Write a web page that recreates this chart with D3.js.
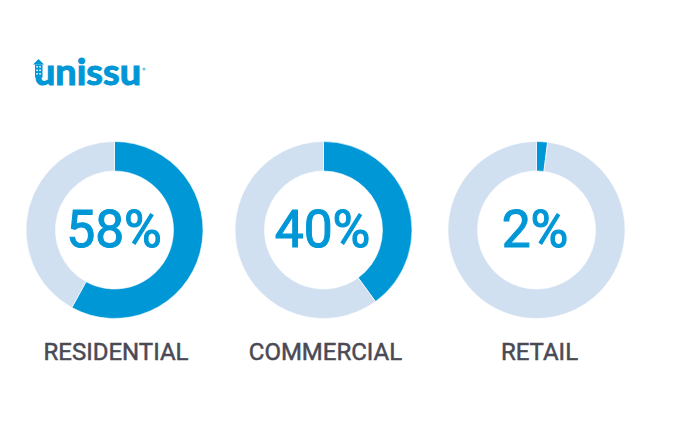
<!DOCTYPE html>
<html>
<head>
<meta charset="utf-8">
<script src="https://cdn.jsdelivr.net/npm/d3@7"></script>
<style>
  html, body { margin: 0; padding: 0; background: #fff; }
  text { font-family: Roboto, sans-serif; }
</style>
</head>
<body>
<div id="chart"></div>
<script>
const categories = ['RESIDENTIAL', 'COMMERCIAL', 'RETAIL'];
const shares = [58, 40, 2];
const brand = 'unissu';

const width = 700;
const height = 424;
const centerX = [114.5, 323.5, 536.5];
const centerY = 230;
const labelX = [116, 325.5, 539.5];
const valueX = [114, 322.5, 535];
const outer = 88.5;
const inner = 59;
const blue = '#0097d7';
const pale = '#d1e0f1';

const svg = d3
  .select('#chart')
  .append('svg')
  .attr('width', width)
  .attr('height', height)
  .attr('viewBox', [0, 0, width, height])
  .style('display', 'block');

const pie = d3.pie().sort(null).value((d) => d);
const arc = d3.arc().innerRadius(inner).outerRadius(outer);

categories.forEach((name, i) => {
  const g = svg.append('g').attr('transform', `translate(${centerX[i]}, ${centerY})`);
  g.selectAll('path')
    .data(pie([shares[i], 100 - shares[i]]))
    .join('path')
    .attr('d', arc)
    .attr('fill', (d, j) => (j === 0 ? blue : pale))
    .attr('stroke', '#fff')
    .attr('stroke-width', 0.6);

  svg.append('text')
    .attr('x', valueX[i])
    .attr('y', 246.5)
    .attr('text-anchor', 'middle')
    .attr('font-size', 51.5)
    .attr('fill', blue)
    .attr('stroke', blue)
    .attr('stroke-width', 1.1)
    .text(shares[i] + '%');

  svg.append('text')
    .attr('x', labelX[i])
    .attr('y', 360)
    .attr('text-anchor', 'middle')
    .attr('font-size', 24)
    .attr('fill', '#4a4a55')
    .attr('stroke', '#4a4a55')
    .attr('stroke-width', 0.5)
    .text(name);
});

// logo
const logo = svg.append('g').attr('fill', blue);
logo.append('text')
  .attr('x', 34)
  .attr('y', 85)
  .attr('font-size', 36)
  .attr('font-weight', 700)
  .attr('stroke', blue)
  .attr('stroke-width', 1.1)
  .style('font-family', 'Lato, sans-serif')
  .attr('textLength', 107)
  .attr('lengthAdjust', 'spacingAndGlyphs')
  .text(brand);
logo.append('path').attr('d', 'M33 64.5 L38.5 59 L44 64.5 Z');
logo.append('rect').attr('x', 35).attr('y', 64.5).attr('width', 7.5).attr('height', 13);
const windows = logo.append('g').attr('fill', '#fff');
d3.range(3).forEach((row) => {
  d3.range(2).forEach((col) => {
    windows.append('rect')
      .attr('x', 36.3 + col * 3)
      .attr('y', 66 + row * 3.5)
      .attr('width', 1.5)
      .attr('height', 1.6);
  });
});
logo.append('circle').attr('cx', 144).attr('cy', 69).attr('r', 1.6).attr('opacity', 0.55);
</script>
</body>
</html>
